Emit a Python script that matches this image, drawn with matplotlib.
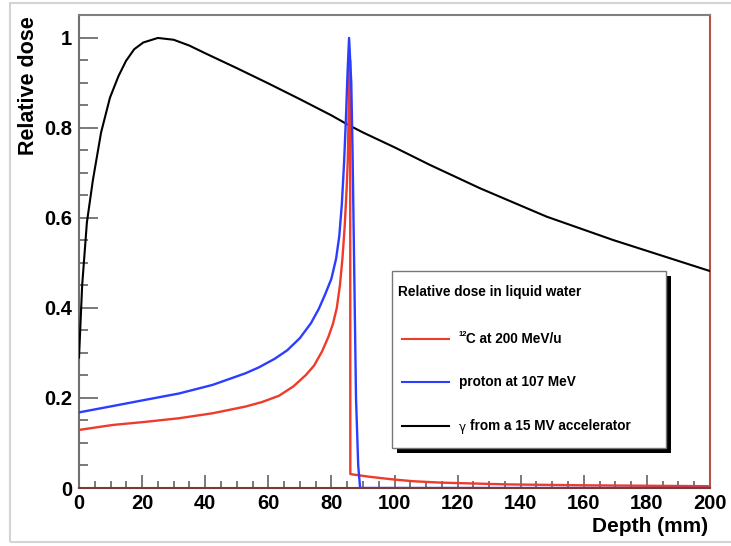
import matplotlib
matplotlib.use("Agg")
import matplotlib.pyplot as plt
from matplotlib.patches import Rectangle
from matplotlib.lines import Line2D
from matplotlib.ticker import MultipleLocator, FuncFormatter

# ---- data ----
depth_gamma = [0, 1, 2.5, 4.4, 7, 9.8, 12.5, 14.9, 17.5, 20.4, 25, 30, 35, 40,
               50, 60, 70, 80, 85.3, 90, 100, 111.2, 127.1, 148.2, 169.3, 200]
dose_gamma = [0.29, 0.45, 0.59, 0.684, 0.79, 0.867, 0.915, 0.949, 0.975, 0.99,
              1.0, 0.996, 0.983, 0.966, 0.933, 0.899, 0.864, 0.828, 0.807,
              0.79, 0.757, 0.718, 0.666, 0.603, 0.551, 0.482]

depth_proton = [0, 10.6, 21.1, 31.7, 42.3, 52.8, 57, 62, 66, 70, 73.5, 76,
                78, 80, 81.5, 82.5, 83.3, 84.0, 84.6, 85.1, 85.6, 86.3, 86.7,
                87.2, 87.8, 88.5, 89.1, 200]
dose_proton = [0.168, 0.182, 0.196, 0.210, 0.229, 0.255, 0.268, 0.287, 0.306,
               0.333, 0.366, 0.398, 0.43, 0.465, 0.51, 0.56, 0.63, 0.72, 0.82,
               0.92, 1.0, 0.9, 0.75, 0.5, 0.2, 0.05, 0.0, 0.0]

depth_carbon = [0, 10.6, 21.1, 31.7, 42.3, 52.8, 58, 63.4, 68, 71.9, 74.5,
                77, 79, 80.5, 81.7, 82.7, 83.5, 84.2, 84.8, 85.2, 85.5, 85.7,
                85.95, 86.0, 86.9, 92, 99.6, 106, 114.4, 125, 135.5, 160,
                199.5, 200]
dose_carbon = [0.129, 0.140, 0.147, 0.155, 0.166, 0.181, 0.191, 0.205, 0.226,
               0.251, 0.272, 0.303, 0.335, 0.365, 0.40, 0.45, 0.51, 0.58, 0.66,
               0.73, 0.85, 0.95, 0.95, 0.031, 0.030, 0.025, 0.019, 0.015,
               0.012, 0.010, 0.008, 0.006, 0.004, 0.0]

W, H = 731, 546
fig = plt.figure(figsize=(W / 100, H / 100), dpi=100)
font = "Liberation Sans"


def fx(px):
    return px / W


def fy(py):
    return 1 - py / H


# screenshot frame
fig.patches.append(Rectangle((fx(10), fy(542)), fx(740) - fx(10), fy(3) - fy(542),
                             transform=fig.transFigure, fill=False,
                             edgecolor="#d4d4d4", lw=1.5))

ax = fig.add_axes([fx(79), fy(488), fx(710) - fx(79), fy(15) - fy(488)])

red = "#ee3b2b"
blue = "#2b3dff"
ax.plot(depth_gamma, dose_gamma, color="black", lw=1.5, zorder=3)
ax.plot(depth_carbon, dose_carbon, color=red, lw=1.7, zorder=4)
ax.plot(depth_proton, dose_proton, color=blue, lw=1.7, zorder=5)

ax.set_xlim(0, 200)
ax.set_ylim(0, 1.051)

ax.xaxis.set_major_locator(MultipleLocator(20))
ax.xaxis.set_minor_locator(MultipleLocator(5))
ax.yaxis.set_major_locator(MultipleLocator(0.2))
ax.yaxis.set_minor_locator(MultipleLocator(0.05))
ax.yaxis.set_major_formatter(FuncFormatter(lambda v, p: "%g" % round(v, 2)))

ax.tick_params(axis="x", which="major", direction="in", length=9.5, width=1.1,
               color="#555555", pad=4.5, top=False)
ax.tick_params(axis="x", which="minor", direction="in", length=5, width=1.1,
               color="#555555", top=False)
ax.tick_params(axis="y", which="major", direction="in", length=13.5, width=1.1,
               color="#555555", pad=5, right=False)
ax.tick_params(axis="y", which="minor", direction="in", length=6.5, width=1.1,
               color="#555555", right=False)
for lab in ax.get_xticklabels() + ax.get_yticklabels():
    lab.set_fontfamily(font)
    lab.set_fontweight("bold")
    lab.set_fontsize(14.5)

ax.spines["top"].set_color("#808080")
ax.spines["left"].set_color("#707070")
ax.spines["bottom"].set_color("#7a3a35")
ax.spines["right"].set_color("#b0554c")
for s in ax.spines.values():
    s.set_linewidth(1.5)

fig.text(fx(29), fy(16), "Relative dose", rotation=90, ha="center", va="top",
         fontsize=15.5, fontweight="bold", family=font)
fig.text(fx(708), fy(532), "Depth (mm)", ha="right", va="baseline",
         fontsize=15, fontweight="bold", family=font)

# legend box with shadow
lx0, ly0, lx1, ly1 = 392, 271, 666, 448
fig.patches.append(Rectangle((fx(lx0 + 5), fy(ly1 + 5)), fx(lx1) - fx(lx0),
                             fy(ly0) - fy(ly1), transform=fig.transFigure,
                             facecolor="black", edgecolor="none", zorder=10))
fig.patches.append(Rectangle((fx(lx0), fy(ly1)), fx(lx1) - fx(lx0),
                             fy(ly0) - fy(ly1), transform=fig.transFigure,
                             facecolor="white", edgecolor="#777777", lw=1,
                             zorder=11))
fig.text(fx(398), fy(292), "Relative dose in liquid water", ha="left",
         va="center", fontsize=9.8, fontweight="bold", family=font, zorder=12)

entries = [(339, red), (382, blue), (426, "black")]
for py, c in entries:
    fig.lines.append(Line2D([fx(402), fx(449)], [fy(py), fy(py)],
                            transform=fig.transFigure, color=c, lw=1.5,
                            zorder=12))
fig.text(fx(459), fy(334), "12", ha="left", va="center", fontsize=5.5,
         fontweight="bold", family=font, zorder=12)
fig.text(fx(466), fy(339), "C at 200 MeV/u", ha="left", va="center",
         fontsize=9.8, fontweight="bold", family=font, zorder=12)
fig.text(fx(459), fy(382), "proton at 107 MeV", ha="left", va="center",
         fontsize=9.8, fontweight="bold", family=font, zorder=12)
fig.text(fx(459), fy(427), "\u03b3", ha="left", va="center", fontsize=8.5,
         family="DejaVu Sans", zorder=12)
fig.text(fx(470), fy(426), "from a 15 MV accelerator", ha="left", va="center",
         fontsize=9.8, fontweight="bold", family=font, zorder=12)

fig.savefig("out.png", dpi=100)
